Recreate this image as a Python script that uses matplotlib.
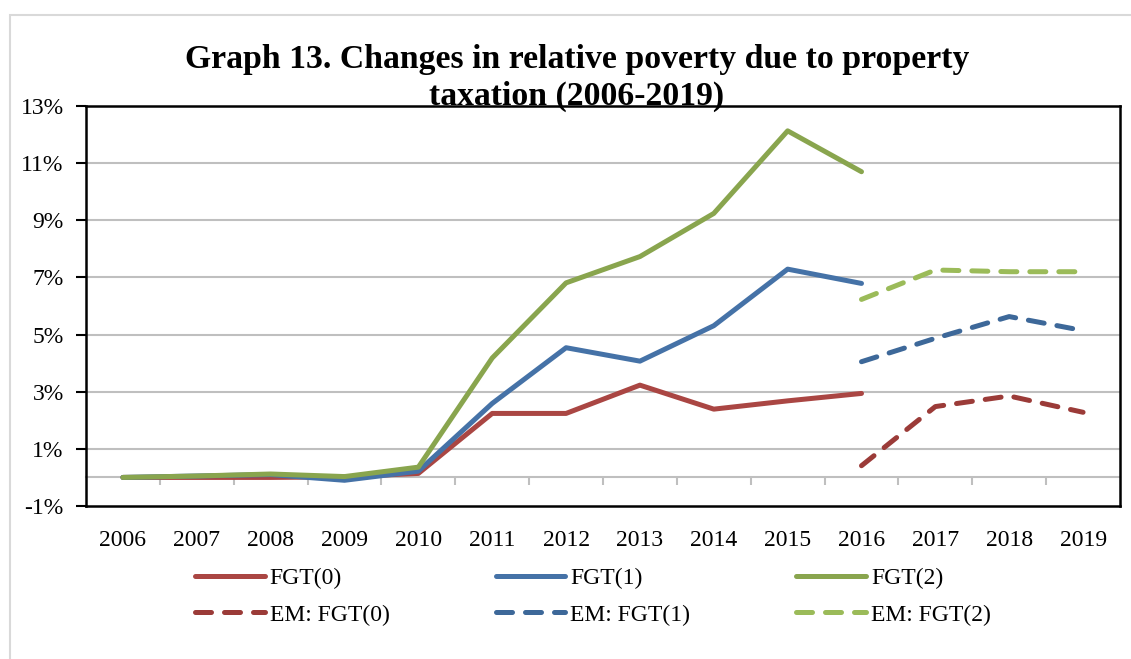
import numpy as np
import matplotlib
matplotlib.use('Agg')
import matplotlib.pyplot as plt
from matplotlib.patches import Rectangle
from matplotlib.ticker import FuncFormatter

## --- Data (values in %)
years = ['2006', '2007', '2008', '2009', '2010', '2011', '2012',
         '2013', '2014', '2015', '2016', '2017', '2018', '2019']
nan = np.nan
fgt0 = [0.0, 0.0, 0.0, 0.02, 0.14, 2.24, 2.24, 3.23, 2.39, 2.68, 2.94, nan, nan, nan]
fgt1 = [0.0, 0.05, 0.1, -0.1, 0.22, 2.59, 4.54, 4.07, 5.31, 7.29, 6.79, nan, nan, nan]
fgt2 = [0.0, 0.05, 0.12, 0.03, 0.36, 4.18, 6.81, 7.73, 9.24, 12.13, 10.7, nan, nan, nan]
em_fgt0 = [nan] * 10 + [0.41, 2.48, 2.85, 2.28]
em_fgt1 = [nan] * 10 + [4.05, 4.87, 5.63, 5.14]
em_fgt2 = [nan] * 10 + [6.23, 7.26, 7.2, 7.2]

title = 'Graph 13. Changes in relative poverty due to property\ntaxation (2006-2019)'

## --- Styling
serif = ['Liberation Serif', 'DejaVu Serif']
plt.rcParams['font.family'] = serif
lw = 3.6
dash = (3.2, 2.6)
fs = 17

fig = plt.figure(figsize=(11.31, 6.59), dpi=100)
ax = fig.add_axes([86 / 1131, 1 - 506 / 659, (1120 - 86) / 1131, (506 - 106) / 659])

# outer chart border (runs off the right and bottom edges)
fig.patches.append(Rectangle((10 / 1131, -0.1), 1.2, 1.1 - 15 / 659, transform=fig.transFigure,
                             fill=False, edgecolor='#d9d9d9', linewidth=1.5, zorder=0))

x = np.arange(len(years))
series = [
    (fgt0, '#aa4643', '-', 'FGT(0)'),
    (em_fgt0, '#9b3b38', '--', 'EM: FGT(0)'),
    (fgt1, '#4572a7', '-', 'FGT(1)'),
    (em_fgt1, '#3d6899', '--', 'EM: FGT(1)'),
    (fgt2, '#89a54e', '-', 'FGT(2)'),
    (em_fgt2, '#9bbb59', '--', 'EM: FGT(2)'),
]
# draw red, blue, green so green sits on top (as in the original)
draw_order = [0, 2, 4, 1, 3, 5]
handles = {}
for i in draw_order:
    vals, col, ls, lab = series[i]
    if ls == '--':
        h, = ax.plot(x, vals, color=col, lw=lw, dashes=dash, dash_capstyle='round',
                     solid_joinstyle='round', label=lab, zorder=3)
    else:
        h, = ax.plot(x, vals, color=col, lw=lw, solid_capstyle='round',
                     solid_joinstyle='round', label=lab, zorder=3)
    handles[i] = h

ax.set_xlim(-0.5, len(years) - 0.5)
ax.set_ylim(-1, 13)
ax.set_yticks(np.arange(-1, 14, 2))
ax.yaxis.set_major_formatter(FuncFormatter(lambda v, p: f'{v:.0f}%'))
ax.set_xticks(x)
ax.set_xticklabels(years)
ax.tick_params(axis='x', length=0, pad=17, labelsize=fs)
ax.tick_params(axis='y', direction='out', length=7, width=1.5, pad=9, labelsize=fs)

# horizontal grid lines (not at the frame edges)
for v in np.arange(1, 12, 2):
    ax.axhline(v, color='#bfbfbf', lw=1.5, zorder=1)

for s in ax.spines.values():
    s.set_linewidth(1.8)
    s.set_color('black')

# category axis sits at y=0 with gray boundary ticks
sec = ax.secondary_xaxis(1 / 14)
sec.spines['bottom'].set_color('#bfbfbf')
sec.spines['bottom'].set_linewidth(1.5)
sec.set_xticks(np.arange(0.5, len(years) - 0.5, 1))
sec.tick_params(axis='x', direction='out', length=6, width=1.5, color='#bfbfbf', labelbottom=False)

fig.text(577 / 1131, 1 - 78 / 659, title, ha='center', va='center', fontsize=24.3,
         fontweight='bold', linespacing=1.25)

leg = fig.legend([handles[i] for i in range(6)], [s[3] for s in series], ncol=3,
                 loc='upper left', bbox_to_anchor=(195 / 1131, 1 - 568 / 659),
                 frameon=False, fontsize=fs, handlelength=2.95, handletextpad=0.22,
                 columnspacing=4.48, labelspacing=0.62, borderpad=0, borderaxespad=0)

fig.savefig('out.png', dpi=100)
